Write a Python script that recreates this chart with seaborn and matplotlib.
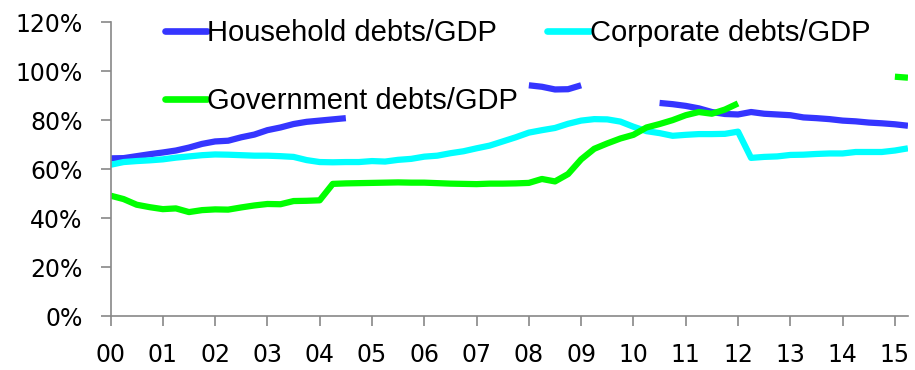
import numpy as np
import pandas as pd
import matplotlib
matplotlib.use("Agg")
import matplotlib.pyplot as plt
from matplotlib.lines import Line2D
import seaborn as sns

sns.set_theme(style="white")
plt.rcParams['font.family'] = ['DejaVu Sans']

nan = np.nan
# quarterly data, 2000Q1 .. 2015Q2 (gaps = hidden behind the legend)
household = [64.4, 64.5, 65.3, 66.1,
             66.8, 67.6, 68.8, 70.3,
             71.3, 71.6, 73.0, 74.1,
             75.9, 77.0, 78.4, 79.3,
             79.8, 80.3, 80.8, nan,
             nan, nan, nan, nan,
             nan, nan, nan, nan,
             nan, nan, nan, nan,
             94.2, 93.6, 92.5, 92.6,
             94.2, nan, nan, nan,
             nan, nan, 87.0, 86.5,
             85.8, 84.8, 83.3, 82.5,
             82.3, 83.3, 82.6, 82.3,
             82.0, 81.1, 80.8, 80.4,
             79.8, 79.5, 79.0, 78.7,
             78.3, 77.7]
corporate = [61.8, 62.9, 63.3, 63.6,
             64.0, 64.7, 65.2, 65.7,
             66.0, 65.9, 65.7, 65.5,
             65.5, 65.3, 65.0, 63.7,
             62.9, 62.8, 62.9, 62.9,
             63.3, 63.1, 63.8, 64.2,
             65.1, 65.5, 66.5, 67.3,
             68.5, 69.6, 71.3, 73.0,
             74.9, 75.9, 76.8, 78.5,
             79.8, 80.4, 80.3, 79.4,
             77.3, 75.5, 74.7, 73.6,
             74.0, 74.3, 74.3, 74.4,
             75.3, 64.6, 65.0, 65.2,
             65.8, 65.9, 66.2, 66.4,
             66.4, 67.0, 67.0, 67.0,
             67.6, 68.5]
government = [49.2, 47.8, 45.5, 44.5,
              43.7, 44.0, 42.5, 43.3,
              43.6, 43.5, 44.4, 45.2,
              45.8, 45.7, 47.0, 47.1,
              47.3, 54.0, 54.2, 54.3,
              54.4, 54.5, 54.6, 54.5,
              54.5, 54.3, 54.1, 54.0,
              53.9, 54.1, 54.1, 54.2,
              54.4, 56.0, 55.0, 58.0,
              64.0, 68.3, 70.5, 72.5,
              74.0, 77.0, 78.4, 80.0,
              82.0, 83.3, 82.6, 84.3,
              86.8, nan, nan, nan,
              nan, nan, nan, nan,
              nan, nan, nan, nan,
              97.7, 97.3]

labels = ["Household debts/GDP", "Corporate debts/GDP", "Government debts/GDP"]
colors = ["#3535FF", "#00FFFF", "#00FF00"]
year_labels = ["00", "01", "02", "03", "04", "05", "06", "07",
               "08", "09", "10", "11", "12", "13", "14", "15"]

years = 2000 + np.arange(len(household)) / 4

# long table, with a segment id so gaps are not bridged
rows = []
for name, vals in zip(labels, [household, corporate, government]):
    seg = 0
    prev = False
    for x, v in zip(years, vals):
        if np.isnan(v):
            if prev:
                seg += 1
            prev = False
            continue
        rows.append({"year": x, "value": v / 100, "series": name, "seg": seg})
        prev = True
df = pd.DataFrame(rows)

fig = plt.figure(figsize=(9.15, 3.7), dpi=100)
ax = fig.add_axes([0.1208, 0.1451, 0.8715, 0.7954])

sns.lineplot(data=df, x="year", y="value", hue="series", units="seg",
             estimator=None, palette=dict(zip(labels, colors)),
             linewidth=4.5, legend=False, ax=ax, solid_capstyle="butt")

ax.set_xlim(2000, 2015.25)
ax.set_ylim(0, 1.2)
ax.set_xticks(np.arange(2000, 2016))
ax.set_xticklabels(year_labels)
ax.set_yticks(np.arange(0, 1.21, 0.2))
ax.set_yticklabels([f"{int(round(t * 100))}%" for t in np.arange(0, 1.21, 0.2)])
ax.set_xlabel("")
ax.set_ylabel("")

for s in ["top", "right"]:
    ax.spines[s].set_visible(False)
for s in ["left", "bottom"]:
    ax.spines[s].set_color("#888888")
    ax.spines[s].set_linewidth(1.2)
ax.tick_params(axis="both", which="major", direction="out", length=7.2, width=1.2,
               color="#888888", labelsize=17, labelcolor="black")
ax.tick_params(axis="y", pad=13)
ax.tick_params(axis="x", pad=12)
ax.tick_params(left=True, bottom=True)

# legend: column-wise fill -> Household, Government | Corporate
order = [0, 2, 1]
handles = [Line2D([0], [0], color=colors[i], lw=4.8) for i in order]
fig.legend(handles, [labels[i] for i in order], ncol=2, loc="upper left",
           bbox_to_anchor=(165 / 915, 1 - 19 / 370), frameon=False,
           prop={"family": "Liberation Sans", "size": 21},
           labelcolor="black",
           handlelength=1.45, handletextpad=0.0, columnspacing=1.0,
           labelspacing=1.38, borderpad=0, borderaxespad=0)

fig.savefig("out.png", dpi=100)
